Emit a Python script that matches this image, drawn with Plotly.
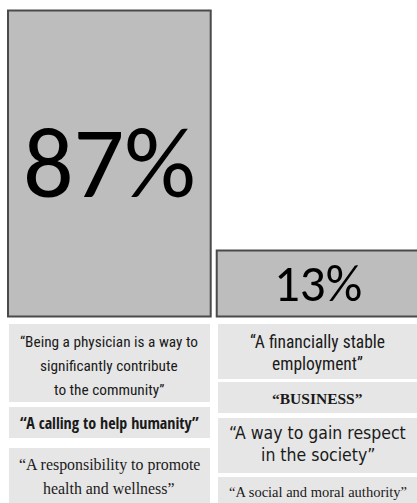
import plotly.graph_objects as go

# Share of respondents per view of the medical profession
groups = ["Altruistic", "Materialistic"]
shares = [87, 13]
share_labels = ["87%", "13%"]

# Quotes shown under each bar, one list of lines per box
left_quotes = [
    ["“Being a physician is a way to", "significantly contribute", "to the community”"],
    ["“A calling to help humanity”"],
    ["“A responsibility to promote", "health and wellness”"],
]
right_quotes = [
    ["“A financially stable", "employment”"],
    ["“BUSINESS”"],
    ["“A way to gain respect", "in the society”"],
    ["“A social and moral authority”"],
]

W, H = 417, 503
BAR_FILL = "#bdbdbd"
BAR_EDGE = "#4a4a4a"
BOX_FILL = "#e6e6e6"
TEXT = "#1a1a1a"

# common baseline for the bars (below zero, as in the original layout)
BASE = -7.35

fig = go.Figure(
    go.Bar(
        x=groups,
        y=[v - BASE for v in shares],
        base=BASE,
        marker=dict(color=BAR_FILL, line=dict(color=BAR_EDGE, width=2)),
        text=share_labels,
        textposition="inside",
        insidetextanchor="middle",
        textangle=0,
        textfont=dict(
            family="Carlito, Roboto, sans-serif",
            size=[100, 51],
            color="#000000",
        ),
        constraintext="none",
        hoverinfo="skip",
    )
)


def px_x(p):
    return p / W


def px_y(p):
    return 1 - p / H


# quote boxes per column: (top, bottom) in pixels
left_boxes = [(324, 402), (407, 438), (448, 503)]
right_boxes = [(324, 379), (382, 413), (418, 473), (477, 503)]

shapes = []
for (y0, y1) in left_boxes:
    shapes.append(dict(type="rect", xref="paper", yref="paper",
                       x0=px_x(9), x1=px_x(210), y0=px_y(y1), y1=px_y(y0),
                       fillcolor=BOX_FILL, line=dict(width=0), layer="below"))
for (y0, y1) in right_boxes:
    shapes.append(dict(type="rect", xref="paper", yref="paper",
                       x0=px_x(218), x1=px_x(417), y0=px_y(y1), y1=px_y(y0),
                       fillcolor=BOX_FILL, line=dict(width=0), layer="below"))

# text styling per box
left_styles = [
    dict(family="Roboto Condensed, Roboto, sans-serif", size=15.3, weight="normal", lines_y=[342, 366, 390]),
    dict(family="Open Sans Condensed, DejaVu Sans Condensed, sans-serif", size=16, weight="bold", lines_y=[423]),
    dict(family="Liberation Serif, serif", size=15.9, weight="normal", lines_y=[465, 488]),
]
right_styles = [
    dict(family="Roboto Condensed, Roboto, sans-serif", size=17.5, weight="normal", lines_y=[342, 364]),
    dict(family="Liberation Serif, serif", size=15.5, weight="bold", lines_y=[398]),
    dict(family="DejaVu Sans Condensed, DejaVu Sans, sans-serif", size=17.5, weight="normal", lines_y=[433, 455]),
    dict(family="Liberation Serif, serif", size=14.5, weight="normal", lines_y=[492]),
]

annotations = []
for cx, quotes, styles in [(109.5, left_quotes, left_styles), (317.5, right_quotes, right_styles)]:
    for lines, st in zip(quotes, styles):
        for line, ly in zip(lines, st["lines_y"]):
            annotations.append(dict(
                x=px_x(cx), y=px_y(ly), xref="paper", yref="paper",
                xanchor="center", yanchor="middle", showarrow=False,
                text=line,
                font=dict(family=st["family"], size=st["size"], color=TEXT, weight=st["weight"]),
            ))

fig.update_layout(
    width=W, height=H,
    margin=dict(l=0, r=0, t=0, b=0),
    paper_bgcolor="white", plot_bgcolor="white",
    bargap=0.0288,
    showlegend=False,
    xaxis=dict(range=[-0.524, 1.474], visible=False, domain=[0, 1]),
    yaxis=dict(range=[-64.87, 90.24], visible=False, domain=[0, 1]),
    shapes=shapes,
    annotations=annotations,
)

fig.write_html("out.html")
